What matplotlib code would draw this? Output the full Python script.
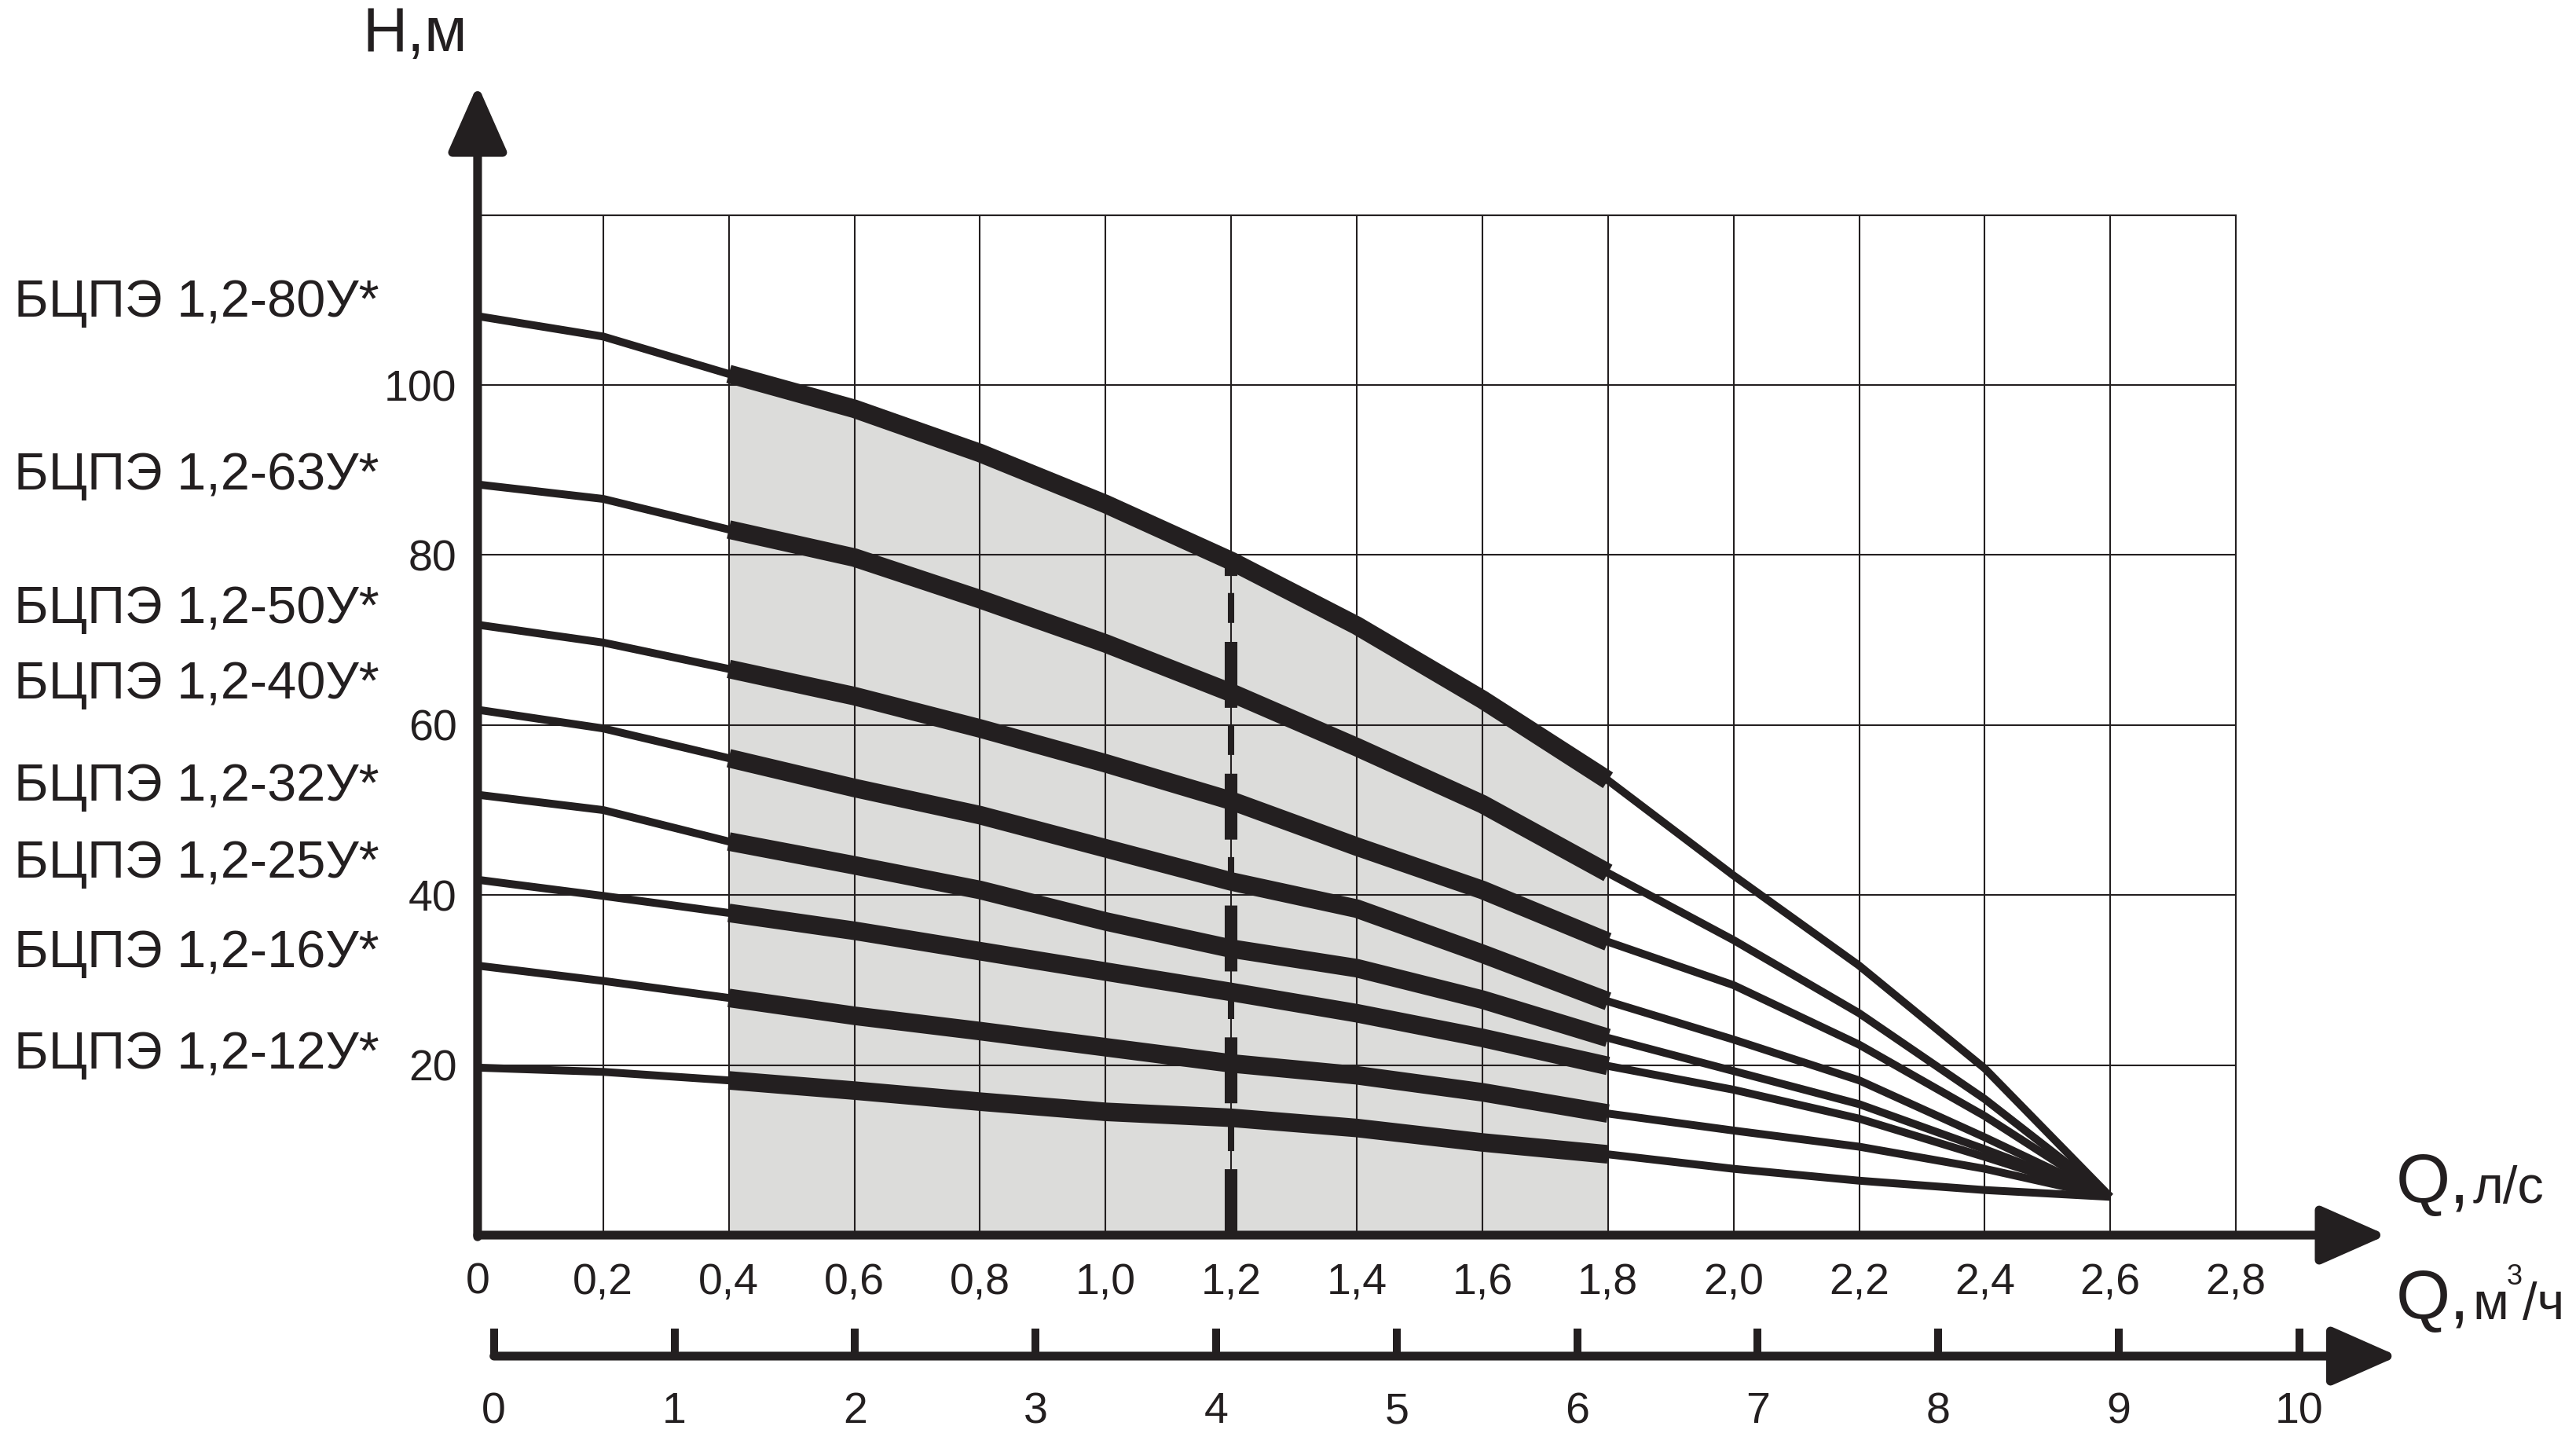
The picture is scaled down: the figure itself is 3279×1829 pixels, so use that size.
import matplotlib
matplotlib.use("Agg")
import matplotlib.pyplot as plt

plt.rcParams['font.family'] = ['Liberation Sans', 'DejaVu Sans']
plt.rcParams['lines.scale_dashes'] = False

ink = '#231f20'
shade = '#dcdcda'

# подача Q, л/с - точки, в которых сняты кривые
q = [0.0, 0.2, 0.4, 0.6, 0.8, 1.0, 1.2, 1.4, 1.6, 1.8, 2.0, 2.2, 2.4, 2.6]

# напор H, м
h_80 = [108.1, 105.7, 101.3, 97.2, 92.0, 86.0, 79.3, 71.7, 63.0, 53.5, 42.3, 31.7, 19.6, 4.5]
h_63 = [88.3, 86.6, 83.0, 79.7, 74.8, 69.6, 63.8, 57.4, 50.7, 42.6, 34.7, 26.1, 16.0, 4.5]
h_50 = [71.8, 69.7, 66.6, 63.4, 59.6, 55.5, 51.1, 45.7, 40.6, 34.5, 29.4, 22.4, 14.0, 4.5]
h_40 = [61.8, 59.6, 56.1, 52.6, 49.4, 45.5, 41.6, 38.4, 33.1, 27.5, 23.0, 18.2, 11.5, 4.5]
h_32 = [51.8, 50.0, 46.3, 43.5, 40.6, 36.9, 33.7, 31.4, 27.7, 23.2, 19.3, 15.4, 10.1, 4.5]
h_25 = [41.8, 39.9, 37.9, 35.8, 33.4, 31.0, 28.6, 26.1, 23.2, 19.9, 17.1, 13.7, 9.2, 4.5]
h_16 = [31.7, 29.9, 27.9, 25.8, 24.0, 22.1, 20.2, 18.8, 16.8, 14.3, 12.3, 10.4, 7.8, 4.5]
h_12 = [19.7, 19.2, 18.2, 17.0, 15.7, 14.5, 13.8, 12.6, 10.9, 9.5, 7.8, 6.4, 5.3, 4.5]

models = ['БЦПЭ 1,2-80У*', 'БЦПЭ 1,2-63У*', 'БЦПЭ 1,2-50У*', 'БЦПЭ 1,2-40У*',
          'БЦПЭ 1,2-32У*', 'БЦПЭ 1,2-25У*', 'БЦПЭ 1,2-16У*', 'БЦПЭ 1,2-12У*']
curves = [h_80, h_63, h_50, h_40, h_32, h_25, h_16, h_12]
label_y = [108.0, 87.7, 72.0, 63.1, 51.1, 42.1, 31.5, 19.6]

# рабочая зона и номинальная подача
work_start = 0.4
work_end = 1.8
q_nominal = 1.2

x_ticks = [0, 0.2, 0.4, 0.6, 0.8, 1.0, 1.2, 1.4, 1.6, 1.8, 2.0, 2.2, 2.4, 2.6, 2.8]
x_tick_labels = ['0', '0,2', '0,4', '0,6', '0,8', '1,0', '1,2', '1,4', '1,6', '1,8',
                 '2,0', '2,2', '2,4', '2,6', '2,8']
y_ticks = [0, 20, 40, 60, 80, 100, 120]
y_tick_labels = ['', '20', '40', '60', '80', '100', '']
m3h_ticks = [0, 1, 2, 3, 4, 5, 6, 7, 8, 9, 10]
m3h_tick_labels = ['0', '1', '2', '3', '4', '5', '6', '7', '8', '9', '10']

# шкала м3/ч нарисована на схеме не точно: 1 м3/ч ~ 0.2875 л/с, ноль смещён
q_per_m3h = 0.2875
q_at_zero_m3h = 0.026

fig = plt.figure(figsize=(16.395, 9.145), dpi=200)
ax_left, ax_bottom, ax_width, ax_height = 0.1854, 0.1405, 0.6826, 0.7099
ax = fig.add_axes([ax_left, ax_bottom, ax_width, ax_height])
ax.set_xlim(0, 2.8)
ax.set_ylim(0, 120)

ax.set_xticks(x_ticks)
ax.set_xticklabels(x_tick_labels)
ax.set_yticks(y_ticks)
ax.set_yticklabels(y_tick_labels)
ax.tick_params(axis='both', length=0, labelsize=20, labelcolor=ink)
ax.tick_params(axis='x', pad=12.5)
ax.tick_params(axis='y', pad=9.5)
ax.grid(True, color=ink, lw=0.75)

for side in ['left', 'bottom']:
    ax.spines[side].set_visible(False)
for side in ['top', 'right']:
    ax.spines[side].set_linewidth(0.75)
    ax.spines[side].set_color(ink)

i0 = q.index(work_start)
i1 = q.index(work_end) + 1
i_nom = q.index(q_nominal)

ax.fill_between(q[i0:i1], 0, h_80[i0:i1], color=shade, lw=0, zorder=1)

for h in curves:
    ax.plot(q, h, color=ink, lw=3.6, solid_joinstyle='round', solid_capstyle='butt', zorder=3)
    ax.plot(q[i0:i1], h[i0:i1], color=ink, lw=8.5, solid_joinstyle='round',
            solid_capstyle='butt', zorder=3)

# номинальная подача - штриховая линия
ax.vlines(q[i_nom], 0, h_80[i_nom], colors=ink, linewidths=5.8,
          linestyles=[(0, (30.2, 30.2))], capstyle='butt', zorder=4)
ax.vlines(q[i_nom], 0, h_80[i_nom], colors=ink, linewidths=2.9,
          linestyles=[(22, (13.7, 46.8))], capstyle='butt', zorder=4)

for name, y in zip(models, label_y):
    ax.text(-0.738, y, name, ha='left', va='baseline', fontsize=24, color=ink)

# оси со стрелками
arrow = dict(arrowstyle='-|>,head_length=2.6,head_width=1.15', mutation_scale=10,
             lw=4, color=ink, shrinkA=0, shrinkB=0)
ax.annotate('', xy=(3.04, 0), xytext=(0, 0), arrowprops=arrow, annotation_clip=False)
ax.annotate('', xy=(0, 135.3), xytext=(0, -0.2), arrowprops=arrow, annotation_clip=False)

ax.text(-0.183, 139.25, 'H,м', ha='left', va='baseline', fontsize=28.5, color=ink)

ax.text(3.055, 3.75, 'Q,', ha='left', va='baseline', fontsize=32, color=ink)
ax.annotate('л/с', xy=(3.055, 3.75), xytext=(35, 0), textcoords='offset points',
            ha='left', va='baseline', fontsize=24, color=ink, annotation_clip=False)

ax.text(3.055, -9.9, 'Q,', ha='left', va='baseline', fontsize=32, color=ink)
ax.annotate('м', xy=(3.055, -9.9), xytext=(35, 0), textcoords='offset points',
            ha='left', va='baseline', fontsize=24, color=ink, annotation_clip=False)
ax.annotate('3', xy=(3.055, -9.9), xytext=(50.5, 16), textcoords='offset points',
            ha='left', va='baseline', fontsize=13, color=ink, annotation_clip=False)
ax.annotate('/ч', xy=(3.055, -9.9), xytext=(57.8, 0), textcoords='offset points',
            ha='left', va='baseline', fontsize=24, color=ink, annotation_clip=False)

# вторая шкала, м3/ч
q_span2 = 3.1
ax2 = fig.add_axes([ax_left, 0.0563 - 0.0005, ax_width * q_span2 / 2.8, 0.001])
ax2.set_xlim((0 - q_at_zero_m3h) / q_per_m3h, (q_span2 - q_at_zero_m3h) / q_per_m3h)
ax2.set_ylim(-1, 1)
ax2.patch.set_visible(False)
for side in ax2.spines:
    ax2.spines[side].set_visible(False)
ax2.set_yticks([])
ax2.set_xticks(m3h_ticks)
ax2.set_xticklabels(m3h_tick_labels)
ax2.tick_params(axis='x', direction='in', length=13, width=3.6, color=ink,
                pad=16, labelsize=20, labelcolor=ink)
m_tip = (3.058 - q_at_zero_m3h) / q_per_m3h
ax2.annotate('', xy=(m_tip, 0), xytext=(0, 0), arrowprops=arrow, annotation_clip=False)

fig.savefig('out.png', dpi=200)
